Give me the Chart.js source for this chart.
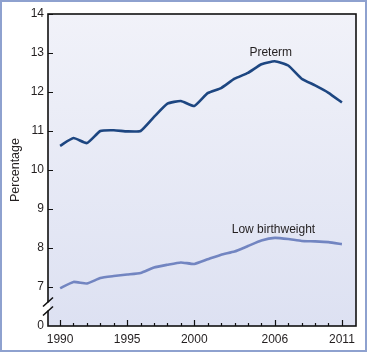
<!DOCTYPE html>
<html>
<head>
<meta charset="utf-8">
<script src="https://cdn.jsdelivr.net/npm/chart.js@4.4.1/dist/chart.umd.min.js"></script>
<style>
  html, body { margin: 0; padding: 0; background: #ffffff; }
  #wrap { width: 367px; height: 352px; position: relative; }
</style>
</head>
<body>
<div id="wrap"><canvas id="birthChart" width="367" height="352"></canvas></div>
<script>
// Years 1990 - 2011
const years = [1990, 1991, 1992, 1993, 1994, 1995, 1996, 1997, 1998, 1999, 2000,
               2001, 2002, 2003, 2004, 2005, 2006, 2007, 2008, 2009, 2010, 2011];
const pretermValues = [10.62, 10.82, 10.69, 11.0, 11.02, 10.99, 11.0, 11.36, 11.70, 11.77, 11.64,
                       11.97, 12.10, 12.34, 12.49, 12.71, 12.79, 12.68, 12.34, 12.17, 11.98, 11.73];
const lowBirthweightValues = [6.97, 7.13, 7.09, 7.23, 7.28, 7.32, 7.36, 7.50, 7.57, 7.63, 7.59,
                              7.71, 7.83, 7.91, 8.05, 8.19, 8.26, 8.23, 8.18, 8.17, 8.15, 8.10];
const xTickLabels = [1990, 1995, 2000, 2006, 2011];
const yTickLabels = [7, 8, 9, 10, 11, 12, 13, 14];
// the bottom of the axis is broken: the lowest tick is shown as "0"
const yBreakValue = 6;
const yBreakLabel = '0';

const textColor = '#231f20';
const fontFamily = '"Liberation Sans", Arial, Helvetica, sans-serif';

function toPoints(values) {
    return years.map((y, i) => ({ x: y, y: values[i] }));
}

// Decoration: frame, plot gradient, inner ticks, axis break, series labels
const decorPlugin = {
    id: 'decor',
    beforeDraw(chart) {
        const ctx = chart.ctx;
        const a = chart.chartArea;
        ctx.save();
        // outer frame
        ctx.strokeStyle = '#8ea1cf';
        ctx.lineWidth = 2;
        ctx.strokeRect(1, 1, chart.width - 2, chart.height - 2);
        // plot background
        const grad = ctx.createLinearGradient(0, a.top, 0, a.bottom);
        grad.addColorStop(0, '#f1f2f9');
        grad.addColorStop(1, '#dde1f2');
        ctx.fillStyle = grad;
        ctx.fillRect(a.left, a.top, a.right - a.left, a.bottom - a.top);
        ctx.restore();
    },
    afterDatasetsDraw(chart) {
        const ctx = chart.ctx;
        const a = chart.chartArea;
        const xs = chart.scales.x;
        const ys = chart.scales.y;
        ctx.save();
        // box
        ctx.strokeStyle = '#111111';
        ctx.lineWidth = 1.6;
        ctx.strokeRect(a.left, a.top, a.right - a.left, a.bottom - a.top);

        // x ticks (inward)
        ctx.lineWidth = 1.2;
        ctx.beginPath();
        for (const yr of years) {
            const px = Math.round(xs.getPixelForValue(yr)) + 0.5;
            const len = xTickLabels.includes(yr) ? 6 : 3;
            ctx.moveTo(px, a.bottom);
            ctx.lineTo(px, a.bottom - len);
        }
        // y ticks (inward)
        for (const v of yTickLabels) {
            const py = Math.round(ys.getPixelForValue(v)) + 0.5;
            ctx.moveTo(a.left, py);
            ctx.lineTo(a.left + 5, py);
        }
        ctx.stroke();

        // axis break
        const yMid = (ys.getPixelForValue(7) + ys.getPixelForValue(yBreakValue)) / 2;
        ctx.fillStyle = '#ffffff';
        ctx.fillRect(a.left - 2, yMid - 4, 4, 8);
        ctx.strokeStyle = '#111111';
        ctx.lineWidth = 1.6;
        ctx.beginPath();
        ctx.moveTo(a.left - 5, yMid);
        ctx.lineTo(a.left + 5, yMid - 9);
        ctx.moveTo(a.left - 5, yMid + 9);
        ctx.lineTo(a.left + 5, yMid);
        ctx.stroke();

        // series labels
        ctx.fillStyle = textColor;
        ctx.font = '12px ' + fontFamily;
        ctx.textAlign = 'center';
        ctx.textBaseline = 'middle';
        ctx.fillText('Preterm', xs.getPixelForValue(2005.7), ys.getPixelForValue(13.0));
        ctx.fillText('Low birthweight', xs.getPixelForValue(2005.9), ys.getPixelForValue(8.48));
        ctx.restore();
    }
};

const ctx = document.getElementById('birthChart');
new Chart(ctx, {
    type: 'line',
    data: {
        datasets: [{
            label: 'Preterm',
            data: toPoints(pretermValues),
            borderColor: '#1d4681',
            borderWidth: 2.6,
            pointRadius: 0,
            tension: 0.15,
            borderJoinStyle: 'round',
            fill: false
        }, {
            label: 'Low birthweight',
            data: toPoints(lowBirthweightValues),
            borderColor: '#7285c1',
            borderWidth: 2.6,
            pointRadius: 0,
            tension: 0.15,
            borderJoinStyle: 'round',
            fill: false
        }]
    },
    options: {
        responsive: false,
        animation: false,
        devicePixelRatio: 1,
        layout: { padding: { left: 8, top: 14, right: 11, bottom: 0 } },
        plugins: {
            legend: { display: false },
            tooltip: { enabled: false }
        },
        scales: {
            x: {
                type: 'linear',
                min: 1989.1,
                max: 2012.05,
                border: { display: false },
                grid: { display: false, drawTicks: false },
                afterFit(scale) { scale.height = 26; },
                ticks: {
                    stepSize: 1,
                    includeBounds: false,
                    autoSkip: false,
                    maxRotation: 0,
                    padding: 6,
                    color: textColor,
                    font: { family: fontFamily, size: 12 },
                    callback(value) {
                        const v = Math.round(value);
                        return (Math.abs(value - v) < 1e-6 && xTickLabels.includes(v)) ? String(v) : '';
                    }
                }
            },
            y: {
                min: yBreakValue,
                max: 14,
                border: { display: false },
                grid: { display: false, drawTicks: false },
                afterFit(scale) { scale.width = 40; },
                title: {
                    display: true,
                    text: 'Percentage',
                    color: textColor,
                    font: { family: fontFamily, size: 12.5 },
                    padding: { top: 0, bottom: 0 }
                },
                ticks: {
                    stepSize: 1,
                    padding: 4,
                    color: textColor,
                    font: { family: fontFamily, size: 12 },
                    callback(value) {
                        if (value === yBreakValue) return yBreakLabel;
                        return yTickLabels.includes(value) ? String(value) : '';
                    }
                }
            }
        }
    },
    plugins: [decorPlugin]
});
</script>
</body>
</html>
